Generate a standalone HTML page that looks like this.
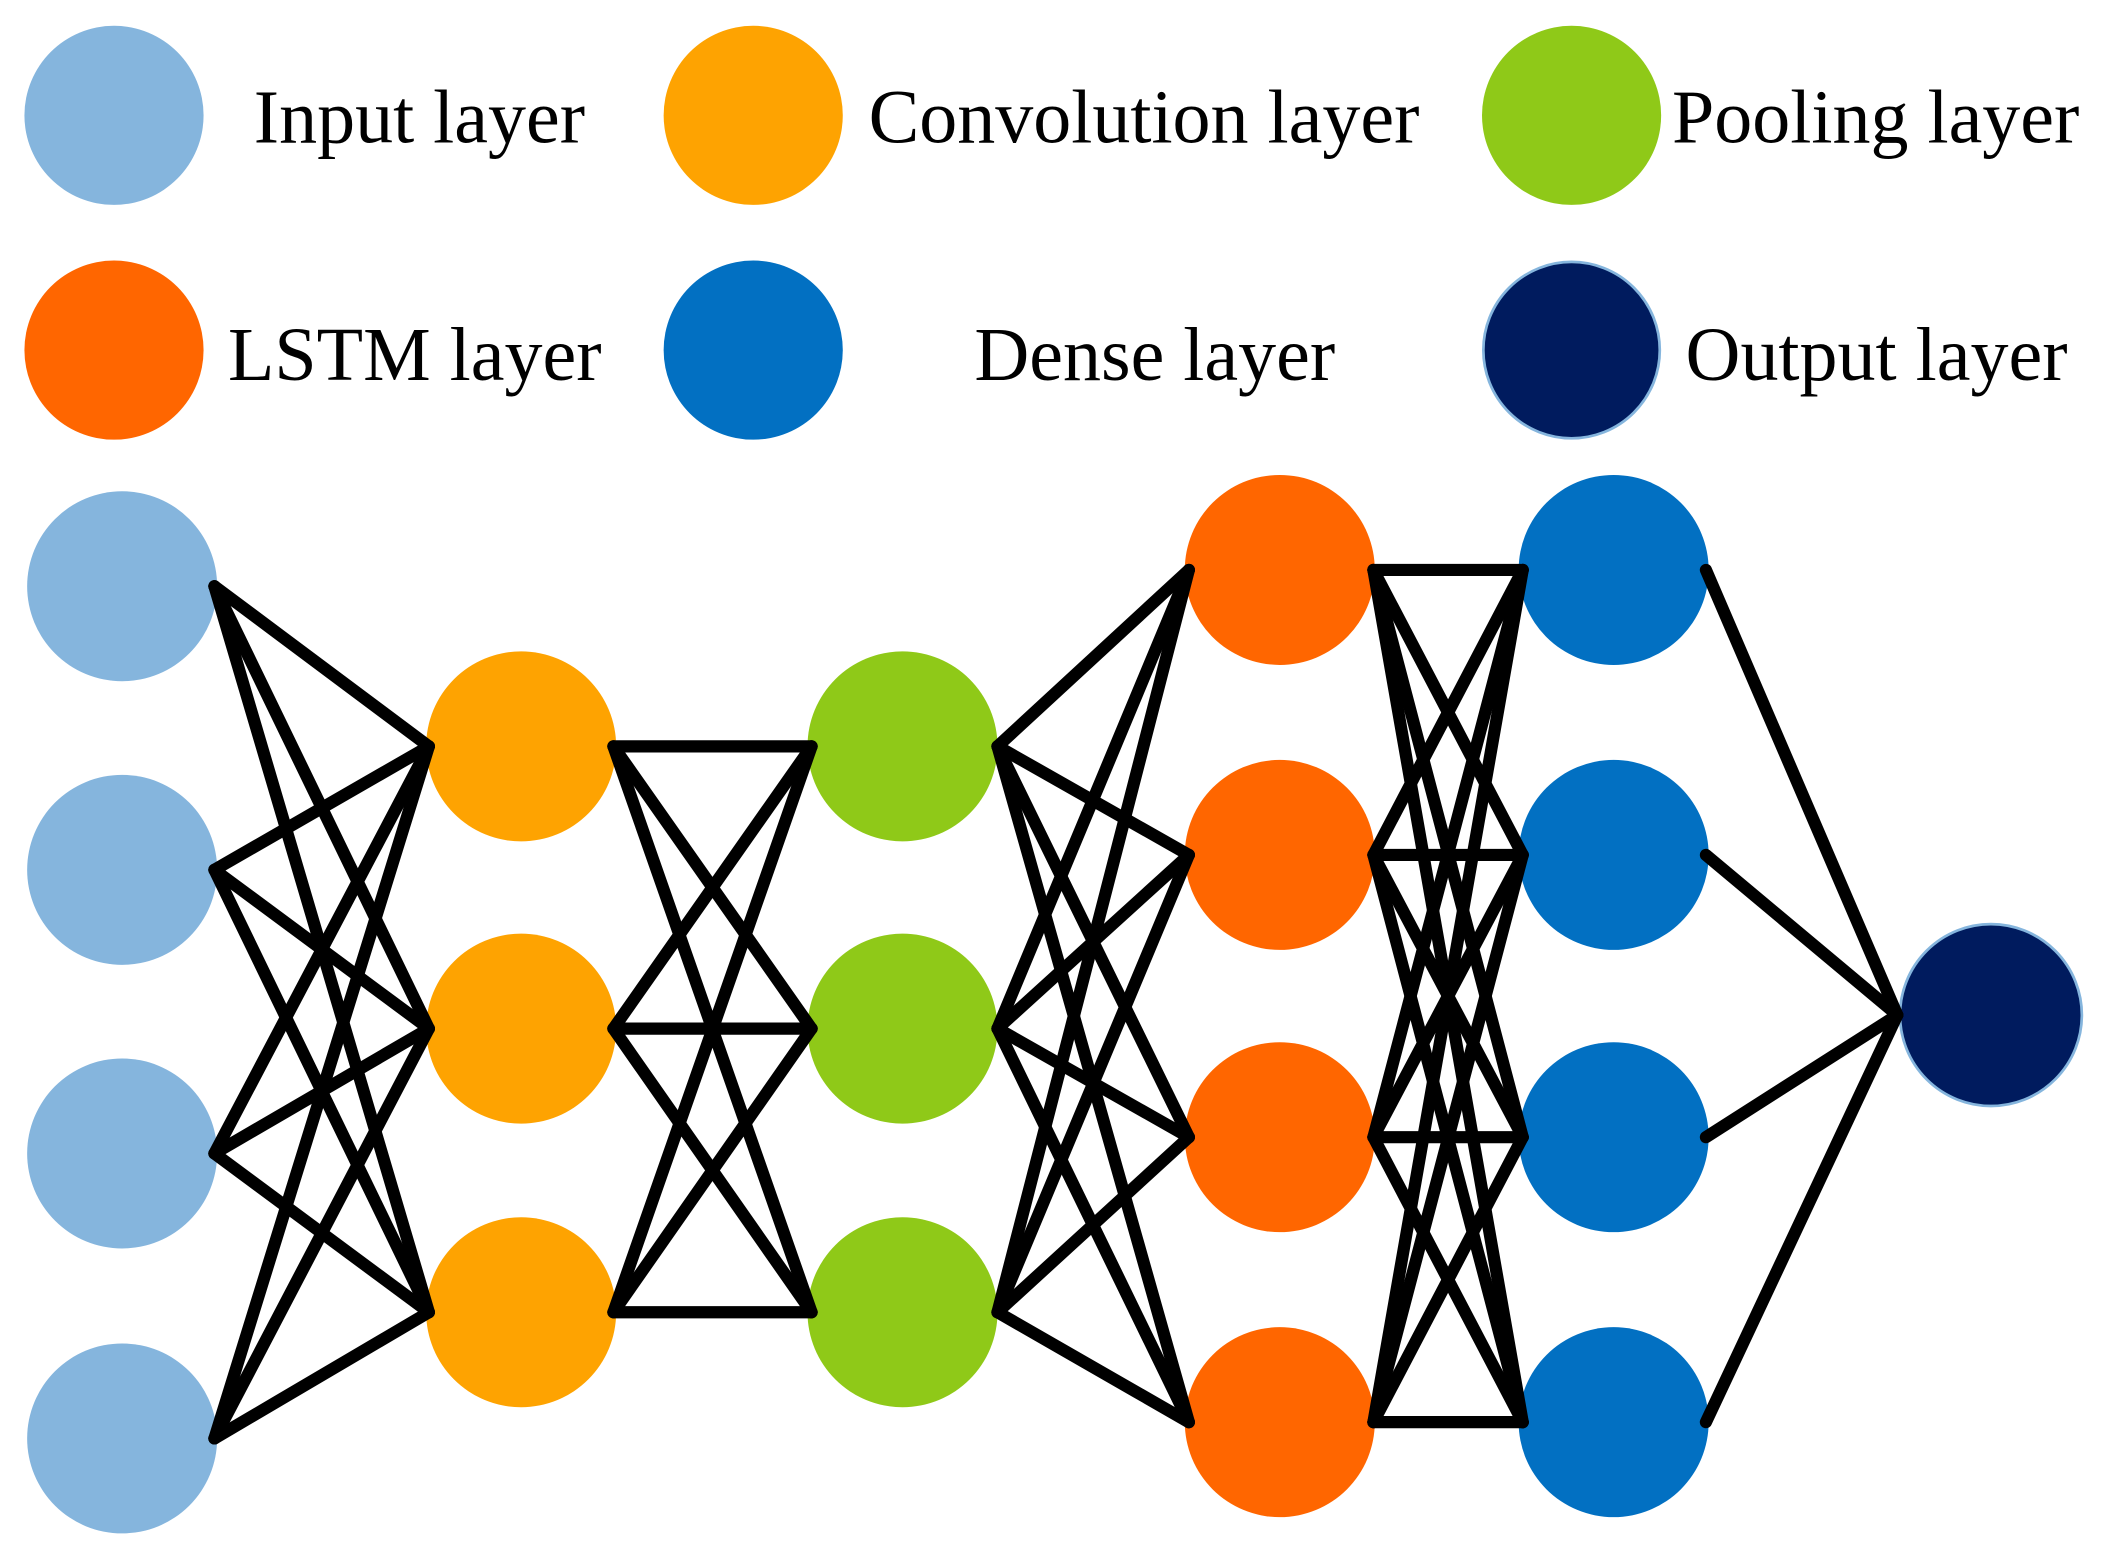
<!DOCTYPE html>
<html><head><style>html,body{margin:0;padding:0;background:#fff}svg{display:block}</style></head>
<body>
<svg width="2128" height="1547" viewBox="0 0 1568 1140" preserveAspectRatio="none" xmlns="http://www.w3.org/2000/svg">
<g font-family="Liberation Serif, serif" font-size="56" fill="#000">
<circle cx="84" cy="85" r="66" fill="#85b5dd"/>
<circle cx="555" cy="85" r="66" fill="#fea301"/>
<circle cx="1158" cy="85" r="66" fill="#8fc918"/>
<circle cx="84" cy="258" r="66" fill="#ff6600"/>
<circle cx="555" cy="258" r="66" fill="#0270c2"/>
<circle cx="1158" cy="258" r="65" fill="#001b5e" stroke="#85b5dd" stroke-width="2"/>
<text x="187" y="105">Input layer</text>
<text x="640" y="105">Convolution layer</text>
<text x="1232" y="105">Pooling layer</text>
<text x="168" y="280">LSTM layer</text>
<text x="718" y="280">Dense layer</text>
<text x="1242" y="280">Output layer</text>
</g>
<g fill="#85b5dd"><circle cx="90" cy="432" r="70"/><circle cx="90" cy="641" r="70"/><circle cx="90" cy="850" r="70"/><circle cx="90" cy="1060" r="70"/></g>
<g fill="#fea301"><circle cx="384" cy="550" r="70"/><circle cx="384" cy="758" r="70"/><circle cx="384" cy="967" r="70"/></g>
<g fill="#8fc918"><circle cx="665" cy="550" r="70"/><circle cx="665" cy="758" r="70"/><circle cx="665" cy="967" r="70"/></g>
<g fill="#ff6600"><circle cx="943" cy="420" r="70"/><circle cx="943" cy="630" r="70"/><circle cx="943" cy="838" r="70"/><circle cx="943" cy="1048" r="70"/></g>
<g fill="#0270c2"><circle cx="1189" cy="420" r="70"/><circle cx="1189" cy="630" r="70"/><circle cx="1189" cy="838" r="70"/><circle cx="1189" cy="1048" r="70"/></g>
<circle cx="1467" cy="748" r="67" fill="#001b5e" stroke="#85b5dd" stroke-width="2"/>
<g stroke="#000" stroke-width="9" stroke-linecap="round">
<!-- input to conv -->
<line x1="158" y1="432" x2="316" y2="550"/><line x1="158" y1="432" x2="316" y2="758"/><line x1="158" y1="432" x2="316" y2="967"/>
<line x1="158" y1="641" x2="316" y2="550"/><line x1="158" y1="641" x2="316" y2="758"/><line x1="158" y1="641" x2="316" y2="967"/>
<line x1="158" y1="850" x2="316" y2="550"/><line x1="158" y1="850" x2="316" y2="758"/><line x1="158" y1="850" x2="316" y2="967"/>
<line x1="158" y1="1060" x2="316" y2="550"/><line x1="158" y1="1060" x2="316" y2="758"/><line x1="158" y1="1060" x2="316" y2="967"/>
<!-- conv to pool -->
<line x1="452" y1="550" x2="598" y2="550"/><line x1="452" y1="550" x2="598" y2="758"/><line x1="452" y1="550" x2="598" y2="967"/>
<line x1="452" y1="758" x2="598" y2="550"/><line x1="452" y1="758" x2="598" y2="758"/><line x1="452" y1="758" x2="598" y2="967"/>
<line x1="452" y1="967" x2="598" y2="550"/><line x1="452" y1="967" x2="598" y2="758"/><line x1="452" y1="967" x2="598" y2="967"/>
<!-- pool to lstm -->
<line x1="735" y1="550" x2="876" y2="420"/><line x1="735" y1="550" x2="876" y2="630"/><line x1="735" y1="550" x2="876" y2="838"/><line x1="735" y1="550" x2="876" y2="1048"/>
<line x1="735" y1="758" x2="876" y2="420"/><line x1="735" y1="758" x2="876" y2="630"/><line x1="735" y1="758" x2="876" y2="838"/><line x1="735" y1="758" x2="876" y2="1048"/>
<line x1="735" y1="967" x2="876" y2="420"/><line x1="735" y1="967" x2="876" y2="630"/><line x1="735" y1="967" x2="876" y2="838"/><line x1="735" y1="967" x2="876" y2="1048"/>
<!-- lstm to dense -->
<line x1="1012" y1="420" x2="1122" y2="420"/><line x1="1012" y1="420" x2="1122" y2="630"/><line x1="1012" y1="420" x2="1122" y2="838"/><line x1="1012" y1="420" x2="1122" y2="1048"/>
<line x1="1012" y1="630" x2="1122" y2="420"/><line x1="1012" y1="630" x2="1122" y2="630"/><line x1="1012" y1="630" x2="1122" y2="838"/><line x1="1012" y1="630" x2="1122" y2="1048"/>
<line x1="1012" y1="838" x2="1122" y2="420"/><line x1="1012" y1="838" x2="1122" y2="630"/><line x1="1012" y1="838" x2="1122" y2="838"/><line x1="1012" y1="838" x2="1122" y2="1048"/>
<line x1="1012" y1="1048" x2="1122" y2="420"/><line x1="1012" y1="1048" x2="1122" y2="630"/><line x1="1012" y1="1048" x2="1122" y2="838"/><line x1="1012" y1="1048" x2="1122" y2="1048"/>
<!-- dense to output -->
<line x1="1257" y1="420" x2="1398" y2="748"/><line x1="1257" y1="630" x2="1398" y2="748"/><line x1="1257" y1="838" x2="1398" y2="748"/><line x1="1257" y1="1048" x2="1398" y2="748"/>
</g>
</svg>
</body></html>
